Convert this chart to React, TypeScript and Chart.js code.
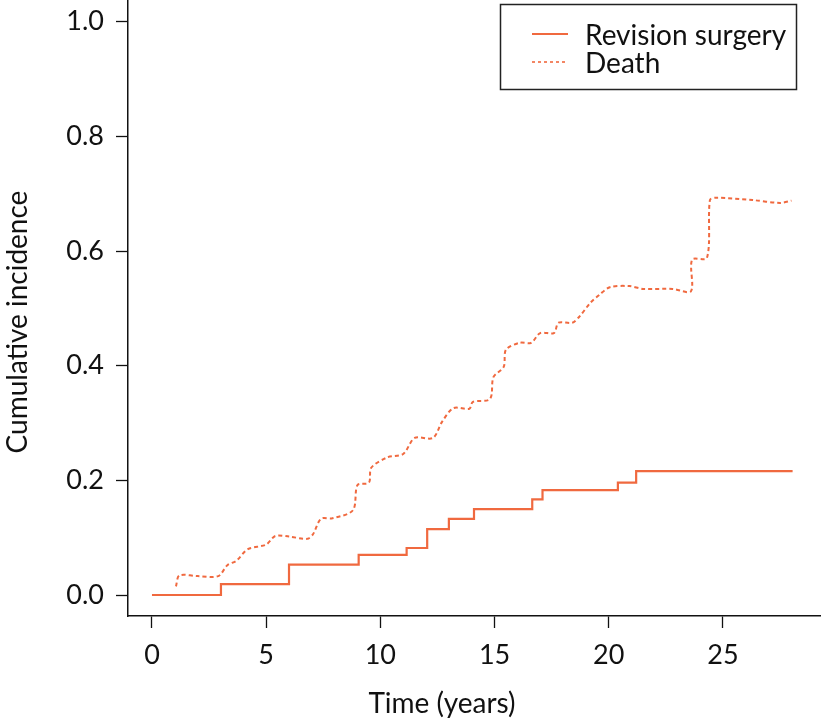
import React, { useEffect, useRef } from "react";
import { Chart, registerables } from "chart.js";

Chart.register(...registerables);

const xTickValues = [0, 5, 10, 15, 20, 25];
const yTickValues = [0, 0.2, 0.4, 0.6, 0.8, 1.0];

const revisionTimes = [0, 3.02, 6.0, 9.05, 11.15, 12.05, 13.0, 14.1, 16.65, 17.1, 20.4, 21.2, 28.05];
const revisionValues = [0, 0.019, 0.053, 0.07, 0.082, 0.115, 0.133, 0.15, 0.167, 0.183, 0.196, 0.216, 0.216];

const deathTimes = [1.05, 1.2, 2.0, 2.9, 3.3, 3.7, 4.2, 5.0, 5.4, 6.0, 6.8, 7.05, 7.4, 7.9, 8.8, 9.0, 9.5, 9.6, 10.3, 11.0, 11.5, 12.3, 12.7, 13.2, 13.9, 14.05, 14.8, 14.95, 15.4, 15.5, 16.1, 16.6, 17.0, 17.6, 17.8, 18.4, 18.7, 19.2, 19.6, 20.05, 20.9, 21.5, 22.8, 23.6, 23.65, 24.3, 24.43, 24.7, 26.3, 27.5, 28.0];
const deathValues = [0.015, 0.034, 0.033, 0.033, 0.052, 0.06, 0.08, 0.088, 0.103, 0.102, 0.098, 0.106, 0.133, 0.134, 0.148, 0.192, 0.196, 0.222, 0.24, 0.246, 0.274, 0.274, 0.302, 0.326, 0.325, 0.337, 0.342, 0.38, 0.398, 0.428, 0.44, 0.44, 0.457, 0.457, 0.475, 0.475, 0.485, 0.51, 0.524, 0.537, 0.539, 0.534, 0.534, 0.53, 0.585, 0.588, 0.689, 0.693, 0.689, 0.684, 0.688];

const seriesLabels = ["Revision surgery", "Death"];
const xTitle = "Time (years)";
const yTitle = "Cumulative incidence";

const COLOR = "#F0693F";
const FONT = "Lato";
const TEXT = "#111111";

export default function App() {
  const canvasRef = useRef<HTMLCanvasElement | null>(null);

  useEffect(() => {
    const canvas = canvasRef.current;
    if (!canvas) return;

    const overlay = {
      id: "overlay",
      afterDraw(chart: any) {
        const ctx = chart.ctx;
        ctx.save();
        ctx.fillStyle = TEXT;
        ctx.font = `28px ${FONT}`;
        // x title
        ctx.textAlign = "center";
        ctx.textBaseline = "alphabetic";
        ctx.fillText(xTitle, 442, 713);
        // y title
        ctx.save();
        ctx.translate(27, 322);
        ctx.rotate(-Math.PI / 2);
        ctx.fillText(yTitle, 0, 0);
        ctx.restore();
        // legend
        ctx.strokeStyle = "#222";
        ctx.lineWidth = 1.5;
        ctx.strokeRect(500.5, 4.5, 296, 85);
        const rows = [35, 63];
        seriesLabels.forEach((lab, i) => {
          ctx.beginPath();
          ctx.strokeStyle = COLOR;
          ctx.lineWidth = i === 0 ? 2 : 1.6;
          ctx.setLineDash(i === 0 ? [] : [3, 3]);
          ctx.moveTo(532, rows[i] - 1);
          ctx.lineTo(568, rows[i] - 1);
          ctx.stroke();
          ctx.setLineDash([]);
          ctx.textAlign = "left";
          ctx.textBaseline = "middle";
          ctx.fillStyle = TEXT;
          ctx.fillText(lab, 585, rows[i] + 1);
        });
        ctx.restore();
      },
    };

    const chart = new Chart(canvas, {
      type: "line",
      data: {
        datasets: [
          {
            label: seriesLabels[0],
            data: revisionTimes.map((t, i) => ({ x: t, y: revisionValues[i] })),
            borderColor: COLOR,
            borderWidth: 2.2,
            stepped: true,
            pointRadius: 0,
            fill: false,
          },
          {
            label: seriesLabels[1],
            data: deathTimes.map((t, i) => ({ x: t, y: deathValues[i] })),
            borderColor: COLOR,
            borderWidth: 2,
            borderDash: [4, 3],
            pointRadius: 0,
            tension: 0.3,
            fill: false,
          },
        ],
      },
      plugins: [overlay],
      options: {
        animation: false,
        responsive: false,
        devicePixelRatio: 1,
        layout: { padding: { left: 0, right: 2, top: 0, bottom: 0 } },
        plugins: {
          legend: { display: false },
          tooltip: { enabled: false },
        },
        scales: {
          x: {
            type: "linear",
            min: -1.05,
            max: 29.25,
            afterBuildTicks: (scale: any) => {
              scale.ticks = xTickValues.map((v) => ({ value: v }));
            },
            afterFit: (scale: any) => {
              scale.height = 105;
              scale.paddingLeft = 0;
              scale.paddingRight = 0;
            },
            grid: {
              drawOnChartArea: false,
              drawTicks: true,
              tickLength: 12,
              tickColor: "#111",
              tickWidth: 1.3,
            },
            border: { display: true, color: "#111", width: 1.5 },
            ticks: {
              color: TEXT,
              font: { family: FONT, size: 27 },
              padding: 11,
              maxRotation: 0,
              autoSkip: false,
              callback: (v: any) => String(v),
            },
          },
          y: {
            type: "linear",
            min: -0.0366,
            max: 1.038,
            afterBuildTicks: (scale: any) => {
              scale.ticks = yTickValues.map((v) => ({ value: v }));
            },
            afterFit: (scale: any) => {
              scale.width = 128;
              scale.paddingTop = 0;
              scale.paddingBottom = 0;
            },
            grid: {
              drawOnChartArea: false,
              drawTicks: true,
              tickLength: 12,
              tickColor: "#111",
              tickWidth: 1.3,
            },
            border: { display: true, color: "#111", width: 1.5 },
            ticks: {
              color: TEXT,
              font: { family: FONT, size: 27 },
              padding: 12,
              autoSkip: false,
              callback: (v: any) => Number(v).toFixed(1),
            },
          },
        },
      },
    } as any);

    return () => chart.destroy();
  }, []);

  return (
    <div style={{ position: "absolute", left: 0, top: 0, width: 822, height: 721 }}>
      <canvas ref={canvasRef} width={822} height={721} style={{ width: 822, height: 721 }} />
    </div>
  );
}
